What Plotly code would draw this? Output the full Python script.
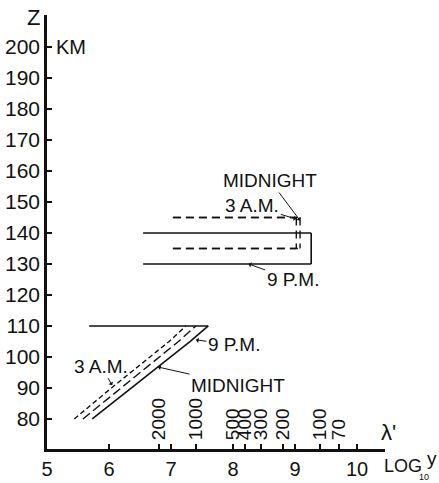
import math
import plotly.graph_objects as go

# ---- lower layer: altitude (km) vs log10 y for three times of night ----
z_low = [80, 90, 100, 105, 110]
logy_low_9pm = [5.73, 6.36, 6.99, 7.31, 7.60]
logy_low_midnight = [5.58, 6.19, 6.81, 7.12, 7.40]
logy_low_3am = [5.44, 6.04, 6.66, 6.97, 7.24]

# horizontal cap of the lower layer at 110 km
z_cap = [110, 110]
logy_cap = [5.68, 7.60]

# ---- upper layer: top/bottom heights (km) and left/right log10 y ----
z_up_9pm = [140, 130]
logy_up_9pm = [6.55, 9.26]
z_up_night = [145, 135]
logy_up_midnight = [7.03, 9.08]
logy_up_3am = [7.03, 9.02]

# ---- axes ----
z_ticks = list(range(80, 201, 10))
logy_ticks = [5, 6, 7, 8, 9, 10]
lambda_ticks = [2000, 1000, 500, 400, 300, 200, 100, 70]
LAMBDA_C = 13.4  # log10 y = C - 2 log10 lambda'
lambda_pos = [LAMBDA_C - 2 * math.log10(v) for v in lambda_ticks]

FONT = "Liberation Sans, Arial, sans-serif"
INK = "#111111"


def open_box(xs, zs):
    """Bracket drawn as separate strokes so every horizontal starts its dash at the left."""
    left, right = xs
    top, bottom = zs
    x = [left, right, None, right, right, None, left, right]
    y = [top, top, None, top, bottom, None, bottom, bottom]
    return x, y


fig = go.Figure()

line_kw = dict(mode="lines", showlegend=False, hoverinfo="skip", connectgaps=False)

# lower layer
fig.add_trace(go.Scatter(x=logy_cap, y=z_cap, line=dict(color=INK, width=1.6), **line_kw))
fig.add_trace(go.Scatter(x=logy_low_9pm, y=z_low, line=dict(color=INK, width=1.6), **line_kw))
fig.add_trace(go.Scatter(x=logy_low_midnight, y=z_low,
                         line=dict(color=INK, width=1.4, dash="9px,4px"), **line_kw))
fig.add_trace(go.Scatter(x=logy_low_3am, y=z_low,
                         line=dict(color=INK, width=1.4, dash="5px,3px"), **line_kw))

# upper layer
bx, bz = open_box(logy_up_9pm, z_up_9pm)
fig.add_trace(go.Scatter(x=bx, y=bz, line=dict(color=INK, width=1.6), **line_kw))
bx, bz = open_box(logy_up_midnight, z_up_night)
fig.add_trace(go.Scatter(x=bx, y=bz, line=dict(color=INK, width=1.4, dash="8px,5px"), **line_kw))
bx, bz = open_box(logy_up_3am, z_up_night)
fig.add_trace(go.Scatter(x=bx, y=bz, line=dict(color=INK, width=1.4, dash="8px,5px"), **line_kw))

# invisible trace to carry the lambda' axis
fig.add_trace(go.Scatter(x=[lambda_pos[0]], y=[z_ticks[0]], xaxis="x2", mode="markers",
                         marker=dict(opacity=0), showlegend=False, hoverinfo="skip"))

X_RANGE = [5.0, 10.45]
Y_RANGE = [70.3, 210.3]


def label(text, x, y, ax, ay, size=19):
    fig.add_annotation(text=text, x=x, y=y, xref="x", yref="y", ax=ax, ay=ay,
                       showarrow=True, arrowhead=1, arrowsize=0.9, arrowwidth=1,
                       arrowcolor=INK, font=dict(family=FONT, size=size, color=INK))


label("MIDNIGHT", 9.08, 144.0, -30, -40)
label("3 A.M.", 9.02, 144.5, -44, -13)
label("9 P.M.", 8.25, 130.0, 44, 16)
label("9 P.M.", 7.40, 105.5, 38, 5)
label("MIDNIGHT", 6.79, 96.75, 80, 18)
label("3 A.M.", 6.05, 90.9, -11, -19)


def text(t, x, y, size=20, xanchor="center", xref="paper", yref="paper"):
    fig.add_annotation(text=t, x=x, y=y, xref=xref, yref=yref, showarrow=False,
                       xanchor=xanchor, yanchor="middle",
                       font=dict(family=FONT, size=size, color=INK))


text("Z", -0.041, 0.995, size=22)
text("KM", 5.39, 200.0, size=20, xref="x", yref="y")
text("λ'", 1.009, 0.039, size=22)
# x-axis title: LOG with a small subscript 10 tucked under the y
text("LOG", 0.991, -0.039, size=18, xanchor="left")
text("10", 1.115, -0.064, size=9)
text("y", 1.138, -0.022, size=19)

fig.update_layout(
    width=439, height=483,
    margin=dict(l=47, r=54, t=15, b=34, autoexpand=False),
    paper_bgcolor="white", plot_bgcolor="white",
    font=dict(family=FONT, color=INK),
    xaxis=dict(range=X_RANGE, tickmode="array", tickvals=logy_ticks,
               ticktext=[str(v) for v in logy_ticks], automargin=False,
               showline=True, linecolor=INK, linewidth=2.5, showgrid=False, zeroline=False,
               ticks="inside", ticklen=5, tickwidth=1.5, tickcolor=INK,
               tickfont=dict(family=FONT, size=20, color=INK)),
    xaxis2=dict(range=X_RANGE, overlaying="x", anchor="free", position=0, side="top",
                tickmode="array", tickvals=lambda_pos, automargin=False,
                ticktext=[str(v) for v in lambda_ticks], tickangle=-90,
                showline=False, showgrid=False, zeroline=False,
                ticks="outside", ticklen=5, tickwidth=1.5, tickcolor=INK,
                tickfont=dict(family=FONT, size=19, color=INK)),
    yaxis=dict(range=Y_RANGE, tickmode="array", tickvals=z_ticks,
               ticktext=[str(v) for v in z_ticks], automargin=False,
               showline=True, linecolor=INK, linewidth=2.5, showgrid=False, zeroline=False,
               ticks="inside", ticklen=5, tickwidth=1.5, tickcolor=INK,
               tickfont=dict(family=FONT, size=21, color=INK)),
)

fig.write_html("out.html")
